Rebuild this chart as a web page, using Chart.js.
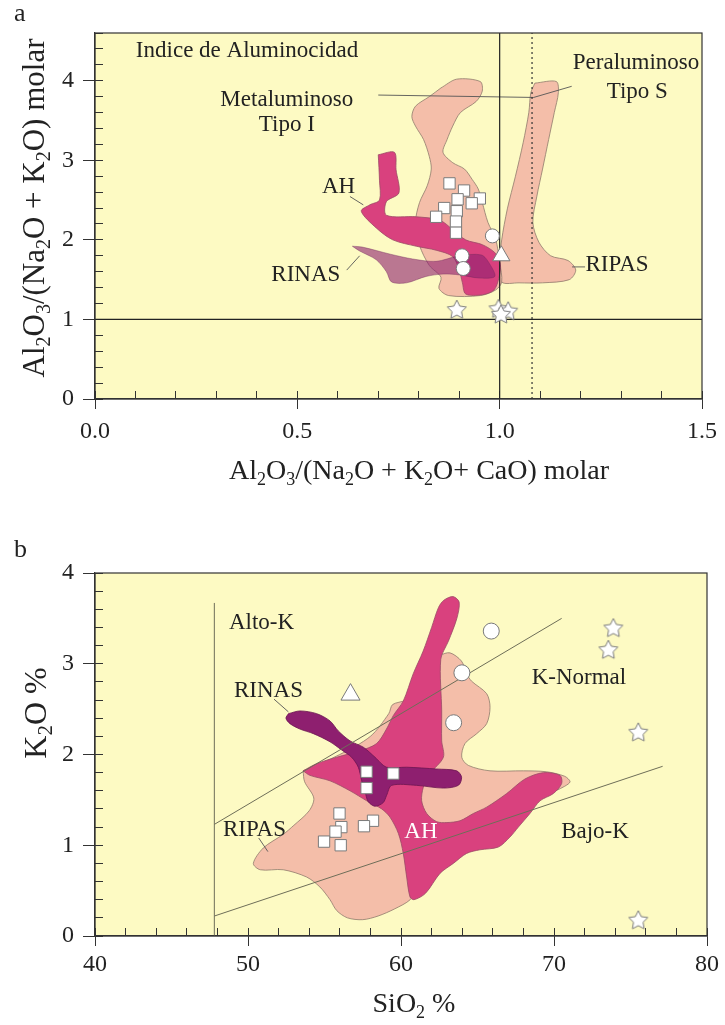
<!DOCTYPE html>
<html>
<head>
<meta charset="utf-8">
<script src="https://cdn.jsdelivr.net/npm/chart.js@4.4.1/dist/chart.umd.min.js"></script>
<style>
  html, body { margin: 0; padding: 0; background: #fff; }
  canvas { display: block; }
</style>
</head>
<body>
<canvas id="chartA" width="725" height="510"></canvas>
<canvas id="chartB" width="725" height="515"></canvas>
<script>
const SERIF = '"Liberation Serif", "Times New Roman", Times, serif';

// ---------- panel a : indice de aluminocidad ----------
const aXRange = [0, 1.5];
const aYRange = [0, 4.6];
const aRipasLeft = [[0.855,3.91],[0.894,4.02],[0.952,3.99],[0.957,3.87],[0.942,3.74],[0.903,3.60],[0.884,3.43],[0.870,3.26],[0.860,3.10],[0.884,2.97],[0.913,2.89],[0.932,2.76],[0.947,2.64],[0.957,2.47],[0.971,2.22],[0.990,2.01],[1.0,1.72],[1.005,1.47],[0.990,1.37],[0.952,1.30],[0.874,1.30],[0.850,1.39],[0.855,1.53],[0.826,1.68],[0.802,1.93],[0.792,2.22],[0.802,2.47],[0.821,2.68],[0.831,2.89],[0.826,3.05],[0.812,3.26],[0.792,3.43],[0.783,3.55],[0.792,3.68],[0.826,3.80],[0.855,3.91]];
const aRipasRight = [[1.087,3.97],[1.140,3.99],[1.145,3.85],[1.135,3.60],[1.121,3.26],[1.106,2.89],[1.092,2.55],[1.082,2.22],[1.097,1.97],[1.126,1.80],[1.169,1.74],[1.188,1.62],[1.172,1.50],[1.106,1.46],[1.048,1.46],[1.005,1.47],[1.0,1.72],[1.005,2.0],[1.019,2.39],[1.039,2.80],[1.058,3.22],[1.072,3.60],[1.077,3.85],[1.087,3.97]];
const aAH = [[0.700,3.07],[0.740,3.10],[0.744,2.88],[0.751,2.59],[0.720,2.48],[0.720,2.31],[0.794,2.29],[0.851,2.25],[0.884,2.13],[0.916,2.00],[0.957,1.94],[0.990,1.83],[1.002,1.69],[0.998,1.52],[0.986,1.37],[0.957,1.31],[0.916,1.32],[0.908,1.46],[0.900,1.62],[0.884,1.79],[0.843,1.87],[0.794,1.92],[0.736,2.00],[0.695,2.15],[0.658,2.36],[0.679,2.44],[0.703,2.50],[0.703,2.75],[0.700,3.07]];
const aRinas = [[0.636,1.92],[0.660,1.91],[0.730,1.82],[0.785,1.76],[0.843,1.73],[0.900,1.80],[0.955,1.81],[0.975,1.70],[0.988,1.54],[0.950,1.52],[0.900,1.56],[0.860,1.57],[0.818,1.54],[0.770,1.46],[0.733,1.47],[0.720,1.60],[0.695,1.75],[0.654,1.86],[0.636,1.92]];
const aSquares = [[0.876,2.71],[0.912,2.62],[0.896,2.51],[0.951,2.52],[0.931,2.46],[0.863,2.40],[0.894,2.36],[0.843,2.29],[0.892,2.23],[0.892,2.09]];
const aCircles = [[0.982,2.05],[0.907,1.80],[0.910,1.64]];
const aTriangles = [[1.004,1.80]];
const aStars = [[0.894,1.13],[0.997,1.14],[1.021,1.11],[1.003,1.07]];
const aSolidLines = [[[1.0,0],[1.0,4.6]], [[0,1.0],[1.5,1.0]]];
const aDottedLine = [[1.08,0],[1.08,4.6]];
const aLeaders = [[[0.700,3.82],[1.084,3.79]], [[1.084,3.79],[1.178,3.93]], [[0.630,2.545],[0.663,2.44]], [[0.622,1.62],[0.654,1.80]], [[1.179,1.66],[1.211,1.66]]];
const aLabels = [
  ['Indice de Aluminocidad', 0.101, 4.377, 'left'],
  ['Metaluminoso', 0.474, 3.76, 'center'],
  ['Tipo I', 0.474, 3.445, 'center'],
  ['Peraluminoso', 1.337, 4.226, 'center'],
  ['Tipo S', 1.340, 3.86, 'center'],
  ['AH', 0.602, 2.667, 'center'],
  ['RINAS', 0.521, 1.56, 'center'],
  ['RIPAS', 1.29, 1.686, 'center']
];

// ---------- panel b : K2O vs SiO2 ----------
const bXRange = [40, 80];
const bYRange = [0, 4];
const bRipas = [[53.6,1.82],[56.0,2.00],[58.0,2.20],[59.2,2.45],[59.45,2.55],[60.3,2.60],[60.8,2.70],[61.5,2.95],[62.55,3.09],[63.2,3.12],[63.95,3.03],[64.3,2.89],[64.6,2.81],[65.6,2.67],[65.82,2.52],[65.6,2.34],[64.95,2.23],[64.18,2.12],[63.97,1.97],[64.4,1.88],[65.82,1.82],[68.0,1.82],[69.5,1.81],[70.7,1.76],[71.05,1.70],[70.7,1.65],[69.5,1.55],[68.0,1.40],[66.5,1.28],[65.0,1.20],[63.5,1.05],[62.5,0.85],[61.5,0.60],[60.6,0.40],[59.6,0.30],[58.5,0.22],[57.5,0.18],[56.5,0.20],[55.8,0.28],[55.36,0.40],[54.7,0.54],[53.83,0.65],[52.3,0.73],[50.8,0.73],[50.35,0.80],[51.0,0.97],[52.3,1.12],[53.0,1.22],[54.0,1.38],[54.3,1.52],[53.7,1.70],[53.6,1.82]];
const bAH = [[53.6,1.82],[54.5,1.90],[55.8,1.97],[57.3,2.04],[58.4,2.12],[59.05,2.28],[59.5,2.43],[60.15,2.59],[60.8,2.89],[61.45,3.14],[62.0,3.40],[62.45,3.62],[62.8,3.70],[63.4,3.74],[63.8,3.68],[63.65,3.50],[63.1,3.25],[62.6,3.05],[62.66,2.48],[62.66,2.15],[62.77,1.97],[61.9,1.79],[61.46,1.64],[61.35,1.49],[61.68,1.35],[62.33,1.26],[63.0,1.25],[63.86,1.27],[64.73,1.35],[65.6,1.42],[66.91,1.57],[68.1,1.73],[69.3,1.80],[70.39,1.77],[70.5,1.68],[69.96,1.57],[69.09,1.49],[68.43,1.35],[67.67,1.20],[67.12,1.09],[66.36,0.98],[65.16,0.95],[64.29,0.91],[63.42,0.80],[62.55,0.69],[61.6,0.47],[60.85,0.40],[60.59,0.43],[60.37,0.65],[60.15,0.91],[59.83,1.13],[59.28,1.31],[58.74,1.40],[57.76,1.49],[56.67,1.60],[55.36,1.71],[54.05,1.77],[53.6,1.82]];
const bRinas = [[52.64,2.45],[53.40,2.48],[54.49,2.45],[55.36,2.37],[55.90,2.26],[56.67,2.15],[57.54,2.08],[58.30,1.97],[59.06,1.86],[60.37,1.86],[62.33,1.84],[63.64,1.82],[63.96,1.75],[63.75,1.66],[62.77,1.63],[61.02,1.66],[59.39,1.66],[59.06,1.55],[58.84,1.47],[58.30,1.43],[57.86,1.48],[57.65,1.59],[57.43,1.71],[57.21,1.86],[56.77,1.97],[56.12,2.05],[55.36,2.14],[54.27,2.23],[53.40,2.28],[52.74,2.34],[52.48,2.40],[52.64,2.45]];
const bSquares = [[57.75,1.81],[59.5,1.79],[57.75,1.63],[55.98,1.35],[56.1,1.20],[55.72,1.15],[58.17,1.27],[57.58,1.21],[54.97,1.04],[56.06,1.00]];
const bCircles = [[65.9,3.36],[63.98,2.90],[63.44,2.35]];
const bTriangles = [[56.7,2.66]];
const bStars = [[73.88,3.40],[73.55,3.16],[75.51,2.25],[75.51,0.18]];
const bDivides = [[[47.8,0],[47.8,3.67]], [[47.8,1.23],[70.5,3.50]], [[47.8,0.22],[77.1,1.87]]];
const bLeaders = [[[51.7,2.61],[52.64,2.47]], [[50.7,1.08],[51.3,0.93]]];
const bLabels = [
  ['Alto-K', 50.88, 3.45, 'center'],
  ['RINAS', 51.34, 2.70, 'center'],
  ['K-Normal', 71.63, 2.84, 'center'],
  ['RIPAS', 50.42, 1.17, 'center'],
  ['AH', 61.3, 1.146, 'center', '#ffffff'],
  ['Bajo-K', 72.68, 1.146, 'center']
];

const YELLOW = '#fdfac3';
const SALMON = '#f4bea9';
const MAGENTA = '#d9417e';
const PURPLE = '#8e1f6f';
const INK = '#222';

Chart.defaults.font.family = SERIF;
Chart.defaults.color = INK;

function pts(a) { return a.map(p => ({ x: p[0], y: p[1] })); }

function field(data, fill, stroke, order) {
  return {
    data: pts(data), fill: 'shape', backgroundColor: fill, borderColor: stroke,
    borderWidth: 0.8, pointRadius: 0, tension: 0.3, order
  };
}

function segment(p, color, width, dash) {
  return {
    data: pts(p), fill: false, borderColor: color, borderWidth: width,
    borderDash: dash || [], pointRadius: 0, tension: 0, order: 1
  };
}

function markers(data, style, radius) {
  return {
    data: pts(data), showLine: false, pointStyle: style, pointRadius: radius,
    pointBackgroundColor: '#fff', pointBorderColor: '#7a7a7a', pointBorderWidth: 1, order: 0
  };
}

function starImage(r) {
  const c = document.createElement('canvas');
  const s = Math.ceil(r * 2 + 4);
  c.width = s; c.height = s;
  const g = c.getContext('2d');
  g.beginPath();
  for (let i = 0; i < 10; i++) {
    const ang = -Math.PI / 2 + i * Math.PI / 5;
    const rr = i % 2 ? r * 0.5 : r;
    g.lineTo(s / 2 + rr * Math.cos(ang), s / 2 + 1 + rr * Math.sin(ang));
  }
  g.closePath();
  g.fillStyle = '#fff'; g.fill();
  g.strokeStyle = '#7a7a7a'; g.lineWidth = 1; g.stroke();
  return c;
}
const STAR = starImage(10);

// text with "_2" style subscripts
function drawRich(ctx, text, x, y, size) {
  const parts = [];
  let i = 0;
  while (i < text.length) {
    if (text[i] === '_') { parts.push({ t: text[i + 1], sub: true }); i += 2; }
    else {
      let j = i;
      while (j < text.length && text[j] !== '_') j++;
      parts.push({ t: text.slice(i, j), sub: false });
      i = j;
    }
  }
  const subSize = Math.round(size * 0.66);
  let w = 0;
  for (const p of parts) {
    ctx.font = (p.sub ? subSize : size) + 'px ' + SERIF;
    p.w = ctx.measureText(p.t).width;
    w += p.w;
  }
  let cx = x - w / 2;
  ctx.textAlign = 'left';
  ctx.textBaseline = 'alphabetic';
  for (const p of parts) {
    ctx.font = (p.sub ? subSize : size) + 'px ' + SERIF;
    ctx.fillText(p.t, cx, p.sub ? y + size * 0.2 : y);
    cx += p.w;
  }
}

const frame = {
  id: 'frame',
  beforeDraw(chart) {
    const { ctx, chartArea: a } = chart;
    ctx.save();
    ctx.fillStyle = YELLOW;
    ctx.fillRect(a.left, a.top, a.right - a.left, a.bottom - a.top);
    ctx.restore();
  },
  afterDraw(chart) {
    const { ctx, chartArea: a } = chart;
    ctx.save();
    ctx.strokeStyle = '#333';
    ctx.lineWidth = 1.2;
    ctx.strokeRect(a.left, a.top, a.right - a.left, a.bottom - a.top);
    ctx.restore();
  }
};

function notes(labels, titles) {
  return {
    id: 'notes',
    afterDatasetsDraw(chart) {
      const { ctx, scales: { x, y } } = chart;
      ctx.save();
      ctx.font = '23px ' + SERIF;
      ctx.textBaseline = 'middle';
      for (const [t, vx, vy, align, color] of labels) {
        ctx.fillStyle = color || INK;
        ctx.textAlign = align;
        ctx.fillText(t, x.getPixelForValue(vx), y.getPixelForValue(vy));
      }
      ctx.restore();
    },
    afterDraw(chart) {
      const ctx = chart.ctx;
      ctx.save();
      ctx.fillStyle = INK;
      ctx.font = '26px ' + SERIF;
      ctx.textAlign = 'left';
      ctx.textBaseline = 'middle';
      ctx.fillText(titles.letter, 14, titles.letterY);
      drawRich(ctx, titles.x, titles.xPos[0], titles.xPos[1], titles.size);
      ctx.translate(titles.yPos[0], titles.yPos[1]);
      ctx.rotate(-Math.PI / 2);
      drawRich(ctx, titles.y, 0, 0, titles.ySize);
      ctx.restore();
    }
  };
}

function axes(xr, yr, xStep, xMinor, yStep, yMinor, fmt, xPad, bottomH) {
  const tickFont = { size: 24 };
  return {
    x: {
      type: 'linear', position: 'bottom', min: xr[0], max: xr[1], weight: 1,
      ticks: { stepSize: xStep, autoSkip: false, maxRotation: 0, includeBounds: false, padding: xPad, font: tickFont, color: INK, callback: fmt },
      grid: { drawOnChartArea: false, tickLength: 10, color: '#333' },
      border: { color: '#333', width: 1.2 },
      afterFit(s) { s.height = bottomH; }
    },
    y: {
      type: 'linear', position: 'left', min: yr[0], max: yr[1], weight: 1,
      ticks: { stepSize: yStep, autoSkip: false, includeBounds: false, padding: 9, font: tickFont, color: INK },
      grid: { drawOnChartArea: false, tickLength: 12, color: '#333' },
      border: { color: '#333', width: 1.2 },
      afterFit(s) { s.width = 95; }
    },
    xm: {
      type: 'linear', position: 'bottom', min: xr[0], max: xr[1], weight: 0,
      ticks: { display: false, stepSize: xMinor, autoSkip: false },
      grid: { drawOnChartArea: false, tickLength: -8, color: '#333' },
      border: { display: false },
      afterFit(s) { s.height = 0; }
    },
    ym: {
      type: 'linear', position: 'left', min: yr[0], max: yr[1], weight: 0,
      ticks: { display: false, stepSize: yMinor, autoSkip: false },
      grid: { drawOnChartArea: false, tickLength: -8, color: '#333' },
      border: { display: false },
      afterFit(s) { s.width = 0; }
    }
  };
}

function baseOptions(scales, padding) {
  return {
    responsive: false,
    animation: false,
    events: [],
    layout: { padding },
    plugins: { legend: { display: false }, tooltip: { enabled: false } },
    scales
  };
}

new Chart(document.getElementById('chartA'), {
  type: 'line',
  data: {
    datasets: [
      markers(aSquares, 'rect', 8),
      markers(aCircles, 'circle', 7),
      markers(aTriangles, 'triangle', 10),
      markers(aStars, STAR, 9),
      ...aSolidLines.map(l => segment(l, '#222', 1.2)),
      segment(aDottedLine, '#333', 1.2, [2, 3]),
      ...aLeaders.map(l => segment(l, '#555', 0.9)),
      field(aRinas, 'rgba(142,31,111,0.6)', 'rgba(110,40,90,0.5)', 2),
      field(aAH, MAGENTA, '#9b4a66', 3),
      field(aRipasLeft, SALMON, '#8f7a6c', 4),
      field(aRipasRight, SALMON, '#8f7a6c', 4)
    ]
  },
  options: baseOptions(
    axes(aXRange, aYRange, 0.5, 0.1, 1, 0.2, v => Number(v).toFixed(1), 8, 111),
    { top: 33, right: 17, left: 0, bottom: 0 }
  ),
  plugins: [frame, notes(aLabels, {
    letter: 'a', letterY: 14, size: 28, ySize: 31,
    x: 'Al_2O_3/(Na_2O + K_2O+ CaO) molar', xPos: [419, 479],
    y: 'Al_2O_3/(Na_2O + K_2O) molar', yPos: [44, 208]
  })]
});

new Chart(document.getElementById('chartB'), {
  type: 'line',
  data: {
    datasets: [
      markers(bSquares, 'rect', 8),
      markers(bCircles, 'circle', 8),
      markers(bTriangles, 'triangle', 11),
      markers(bStars, STAR, 9),
      ...bDivides.map(l => segment(l, '#6e6e58', 1)),
      ...bLeaders.map(l => segment(l, '#555', 0.9)),
      field(bRinas, PURPLE, '#6a1450', 2),
      field(bAH, MAGENTA, '#9b4a66', 3),
      field(bRipas, SALMON, '#8f7a6c', 4)
    ]
  },
  options: baseOptions(
    axes(bXRange, bYRange, 10, 2, 1, 0.2, v => String(v), 4, 89),
    { top: 63, right: 18, left: 0, bottom: 0 }
  ),
  plugins: [frame, notes(bLabels, {
    letter: 'b', letterY: 40, size: 28, ySize: 32,
    x: 'SiO_2 %', xPos: [414, 502],
    y: 'K_2O %', yPos: [46, 203]
  })]
});
</script>
</body>
</html>
